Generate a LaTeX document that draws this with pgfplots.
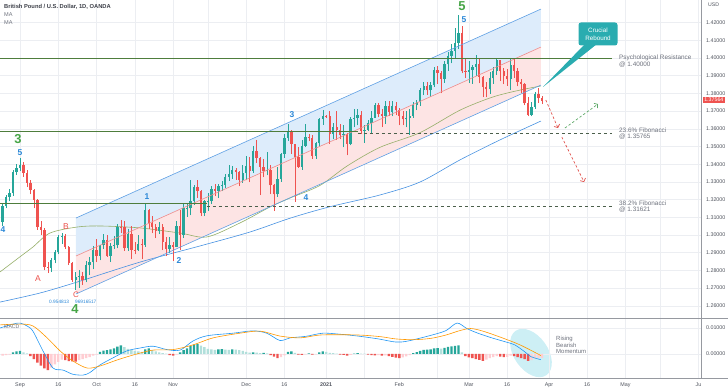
\documentclass[border=0pt]{standalone}
\usepackage{fontspec}
\setmainfont{Liberation Sans}
\usepackage{pgfplots}
\pgfplotsset{compat=1.18}
\usepackage{pgfplotstable}
\usetikzlibrary{arrows.meta}

\definecolor{upc}{RGB}{38,166,154}
\definecolor{dnc}{RGB}{239,83,80}
\definecolor{gridc}{RGB}{236,238,242}
\definecolor{axc}{RGB}{150,153,160}
\definecolor{ticc}{RGB}{80,84,94}
\definecolor{txt}{RGB}{110,114,125}
\definecolor{titc}{RGB}{60,63,72}
\definecolor{chblue}{RGB}{95,160,228}
\definecolor{chfillb}{RGB}{221,236,251}
\definecolor{chfillr}{RGB}{253,228,228}
\definecolor{chmid}{RGB}{238,140,140}
\definecolor{maA}{RGB}{150,175,105}
\definecolor{maB}{RGB}{70,145,225}
\definecolor{lvgreen}{RGB}{78,125,60}
\definecolor{dashc}{RGB}{75,95,75}
\definecolor{wgreen}{RGB}{70,165,70}
\definecolor{wblue}{RGB}{42,135,215}
\definecolor{wred}{RGB}{235,80,75}
\definecolor{callc}{RGB}{42,172,176}
\definecolor{macdb}{RGB}{33,150,243}
\definecolor{macdo}{RGB}{255,152,0}
\definecolor{hg}{RGB}{38,166,154}
\definecolor{hlg}{RGB}{178,223,219}
\definecolor{hr}{RGB}{239,83,80}
\definecolor{hlr}{RGB}{255,205,210}
\definecolor{ell}{RGB}{196,236,243}
\definecolor{arrred}{RGB}{225,85,80}
\definecolor{arrgreen}{RGB}{95,170,105}

\newcommand{\fs}[1]{\fontsize{#1}{#1}\selectfont}

% daily candles GBP/USD, x = trading-day index (0 = 1 Sep 2020), u = 1 up / 0 down
\pgfplotstableread{
x o h l c u
-5 1.3073 1.3180 1.3050 1.3164 1
-4 1.3164 1.3225 1.3150 1.3215 1
-3 1.3215 1.3260 1.3190 1.3240 1
-2 1.3240 1.3370 1.3220 1.3356 1
-1 1.3356 1.3400 1.3340 1.3380 1
0 1.3380 1.3435 1.3360 1.3395 1
1 1.3395 1.3410 1.3330 1.3350 0
2 1.3350 1.3365 1.3270 1.3294 0
3 1.3294 1.3310 1.3230 1.3254 0
4 1.3254 1.3260 1.3150 1.3198 0
5 1.3198 1.3205 1.3030 1.3045 0
6 1.3045 1.3080 1.3000 1.3030 0
7 1.3030 1.3040 1.2800 1.2819 0
8 1.2819 1.2850 1.2785 1.2814 0
9 1.2814 1.2870 1.2790 1.2859 1
10 1.2859 1.2915 1.2840 1.2904 1
11 1.2904 1.3000 1.2890 1.2989 1
12 1.2989 1.3010 1.2950 1.2995 1
13 1.2995 1.3005 1.2920 1.2932 0
14 1.2932 1.2940 1.2830 1.2842 0
15 1.2842 1.2850 1.2735 1.2746 0
16 1.2746 1.2790 1.2689 1.2763 1
17 1.2763 1.2800 1.2700 1.2770 1
18 1.2770 1.2790 1.2720 1.2745 0
19 1.2745 1.2851 1.2732 1.2830 1
20 1.2830 1.2873 1.2772 1.2847 1
21 1.2847 1.2939 1.2806 1.2918 1
22 1.2918 1.2977 1.2845 1.2880 0
23 1.2880 1.2946 1.2856 1.2941 1
24 1.2941 1.3008 1.2920 1.2971 1
25 1.2971 1.3000 1.2876 1.2882 0
26 1.2882 1.2955 1.2847 1.2940 1
27 1.2940 1.2992 1.2920 1.2942 1
28 1.2942 1.3062 1.2924 1.3046 1
29 1.3046 1.3083 1.3011 1.3044 0
30 1.3044 1.3080 1.2910 1.2925 0
31 1.2925 1.3032 1.2910 1.3005 1
32 1.3005 1.3050 1.2864 1.2917 0
33 1.2917 1.2960 1.2890 1.2913 0
34 1.2913 1.3001 1.2912 1.2947 1
35 1.2947 1.2976 1.2864 1.2943 0
36 1.2943 1.3177 1.2933 1.3139 1
37 1.3139 1.3147 1.3035 1.3070 0
38 1.3070 1.3107 1.3011 1.3043 0
39 1.3043 1.3063 1.2983 1.3022 0
40 1.3022 1.3073 1.3007 1.3045 1
41 1.3045 1.3063 1.2914 1.2960 0
42 1.2960 1.2990 1.2880 1.2921 0
43 1.2921 1.2990 1.2897 1.2945 1
44 1.2945 1.2963 1.2854 1.2935 0
45 1.2935 1.3081 1.2932 1.3053 1
46 1.3053 1.3140 1.2914 1.3002 0
47 1.3002 1.3177 1.2982 1.3150 1
48 1.3150 1.3176 1.3103 1.3152 1
49 1.3152 1.3311 1.3111 1.3194 1
50 1.3194 1.3282 1.3170 1.3270 1
51 1.3270 1.3313 1.3211 1.3250 0
52 1.3250 1.3254 1.3106 1.3122 0
53 1.3122 1.3199 1.3106 1.3190 1
54 1.3190 1.3236 1.3135 1.3192 1
55 1.3192 1.3275 1.3176 1.3261 1
56 1.3261 1.3290 1.3220 1.3250 0
57 1.3250 1.3288 1.3211 1.3275 1
58 1.3275 1.3307 1.3248 1.3283 1
59 1.3283 1.3346 1.3266 1.3330 1
60 1.3330 1.3398 1.3306 1.3342 1
61 1.3342 1.3390 1.3319 1.3367 1
62 1.3367 1.3376 1.3312 1.3357 0
63 1.3357 1.3359 1.3276 1.3310 0
64 1.3310 1.3393 1.3294 1.3349 1
65 1.3349 1.3445 1.3309 1.3392 1
66 1.3392 1.3443 1.3298 1.3362 0
67 1.3362 1.3505 1.3349 1.3474 1
68 1.3474 1.3539 1.3409 1.3435 0
69 1.3435 1.3440 1.3225 1.3385 0
70 1.3385 1.3431 1.3325 1.3363 0
71 1.3363 1.3469 1.3337 1.3369 1
72 1.3369 1.3396 1.3231 1.3281 0
73 1.3281 1.3287 1.3135 1.3229 0
74 1.3229 1.3384 1.3216 1.3319 1
75 1.3319 1.3466 1.3300 1.3460 1
76 1.3460 1.3569 1.3437 1.3549 1
77 1.3549 1.3625 1.3533 1.3581 1
78 1.3581 1.3596 1.3459 1.3514 0
79 1.3514 1.3514 1.3188 1.3442 0
80 1.3442 1.3500 1.3380 1.3386 0
81 1.3386 1.3535 1.3368 1.3504 1
82 1.3504 1.3625 1.3497 1.3555 1
83 1.3555 1.3571 1.3530 1.3549 0
84 1.3549 1.3565 1.3430 1.3449 0
85 1.3449 1.3526 1.3430 1.3518 1
86 1.3518 1.3660 1.3498 1.3656 1
87 1.3656 1.3704 1.3622 1.3672 1
88 1.3672 1.3680 1.3660 1.3670 0
89 1.3670 1.3703 1.3515 1.3571 0
90 1.3571 1.3632 1.3540 1.3608 1
91 1.3608 1.3700 1.3539 1.3595 0
92 1.3595 1.3625 1.3540 1.3565 0
93 1.3565 1.3623 1.3495 1.3568 1
94 1.3568 1.3574 1.3450 1.3516 0
95 1.3516 1.3666 1.3507 1.3658 1
96 1.3658 1.3710 1.3608 1.3661 1
97 1.3661 1.3711 1.3619 1.3677 1
98 1.3677 1.3700 1.3573 1.3590 0
99 1.3590 1.3623 1.3521 1.3596 1
100 1.3596 1.3648 1.3590 1.3635 1
101 1.3635 1.3700 1.3575 1.3663 1
102 1.3663 1.3746 1.3660 1.3732 1
103 1.3732 1.3745 1.3665 1.3685 0
104 1.3685 1.3711 1.3610 1.3675 0
105 1.3675 1.3760 1.3628 1.3731 1
106 1.3731 1.3757 1.3672 1.3694 0
107 1.3694 1.3758 1.3670 1.3728 1
108 1.3728 1.3752 1.3676 1.3708 0
109 1.3708 1.3720 1.3620 1.3673 0
110 1.3673 1.3700 1.3620 1.3653 0
111 1.3653 1.3700 1.3608 1.3660 1
112 1.3660 1.3710 1.3566 1.3670 1
113 1.3670 1.3753 1.3662 1.3736 1
114 1.3736 1.3765 1.3706 1.3750 1
115 1.3750 1.3831 1.3730 1.3819 1
116 1.3819 1.3866 1.3790 1.3842 1
117 1.3842 1.3866 1.3792 1.3817 0
118 1.3817 1.3865 1.3780 1.3846 1
119 1.3846 1.3950 1.3835 1.3930 1
120 1.3930 1.3953 1.3856 1.3916 0
121 1.3916 1.3928 1.3800 1.3883 0
122 1.3883 1.3985 1.3860 1.3964 1
123 1.3964 1.4034 1.3928 1.4014 1
124 1.4014 1.4080 1.3970 1.4040 1
125 1.4040 1.4168 1.4000 1.4086 1
126 1.4086 1.4243 1.4050 1.4144 1
127 1.4144 1.4182 1.3913 1.3925 0
128 1.3925 1.4000 1.3887 1.3922 0
129 1.3922 1.3986 1.3858 1.3933 1
130 1.3933 1.3962 1.3855 1.3950 1
131 1.3950 1.4016 1.3900 1.3964 1
132 1.3964 1.4000 1.3857 1.3894 0
133 1.3894 1.3900 1.3779 1.3838 0
134 1.3838 1.3865 1.3778 1.3823 0
135 1.3823 1.3920 1.3797 1.3885 1
136 1.3885 1.3947 1.3854 1.3926 1
137 1.3926 1.4000 1.3904 1.3988 1
138 1.3988 1.3991 1.3870 1.3925 0
139 1.3925 1.3945 1.3852 1.3899 0
140 1.3899 1.3939 1.3844 1.3880 0
141 1.3880 1.4001 1.3818 1.3962 1
142 1.3962 1.4000 1.3886 1.3928 0
143 1.3928 1.3942 1.3840 1.3866 0
144 1.3866 1.3880 1.3800 1.3855 0
145 1.3855 1.3861 1.3732 1.3744 0
146 1.3744 1.3779 1.3670 1.3680 0
147 1.3680 1.3751 1.3670 1.3724 1
148 1.3724 1.3810 1.3714 1.3797 1
149 1.3797 1.3833 1.3745 1.3774 0
150 1.3774 1.3785 1.3740 1.3756 0
}\candles

% MACD histogram, t: 1 rising positive, 2 falling positive, 3 falling negative, 4 rising negative
\pgfplotstableread{
x v t
-5 -0.0006 4
-4 -0.0004 4
-3 -0.0002 4
-2 0.0006 1
-1 0.0010 1
0 0.0012 1
1 0.0006 2
2 0.0002 2
3 -0.0008 3
4 -0.0020 3
5 -0.0033 3
6 -0.0045 3
7 -0.0055 3
8 -0.0062 3
9 -0.0052 4
10 -0.0040 4
11 -0.0030 4
12 -0.0022 4
13 -0.0024 3
14 -0.0027 3
15 -0.0028 3
16 -0.0029 3
17 -0.0024 4
18 -0.0020 4
19 -0.0016 4
20 -0.0012 4
21 -0.0006 4
22 -0.0002 4
23 0.0008 1
24 0.0013 1
25 0.0015 1
26 0.0018 1
27 0.0022 1
28 0.0028 1
29 0.0033 1
30 0.0026 2
31 0.0020 2
32 0.0016 2
33 0.0012 2
34 0.0010 2
35 0.0008 2
36 0.0018 1
37 0.0022 1
38 0.0015 2
39 0.0010 2
40 0.0006 2
41 0.0003 2
42 0.0001 2
43 -0.0004 3
44 -0.0006 3
45 -0.0002 4
46 0.0006 1
47 0.0015 1
48 0.0022 1
49 0.0030 1
50 0.0036 1
51 0.0038 1
52 0.0032 2
53 0.0026 2
54 0.0020 2
55 0.0018 2
56 0.0016 2
57 0.0018 1
58 0.0019 1
59 0.0017 2
60 0.0016 2
61 0.0018 1
62 0.0017 2
63 0.0015 2
64 0.0012 2
65 0.0008 2
66 0.0005 2
67 0.0006 1
68 0.0005 2
69 0.0003 2
70 0.0004 1
71 0.0002 2
72 -0.0004 3
73 -0.0010 3
74 -0.0016 3
75 -0.0012 4
76 -0.0005 4
77 0.0008 1
78 0.0010 1
79 0.0004 2
80 -0.0002 3
81 -0.0003 3
82 -0.0001 4
83 0.0002 1
84 -0.0002 3
85 -0.0001 4
86 0.0006 1
87 0.0010 1
88 0.0008 2
89 0.0004 2
90 0.0003 2
91 0.0001 2
92 -0.0002 3
93 -0.0003 3
94 -0.0006 3
95 -0.0003 4
96 0.0001 1
97 0.0003 1
98 0.0001 2
99 0.0001 2
100 -0.0002 3
101 -0.0004 3
102 -0.0005 3
103 -0.0004 4
104 -0.0006 3
105 -0.0005 4
106 -0.0008 3
107 -0.0011 3
108 -0.0014 3
109 -0.0016 3
110 -0.0013 4
111 -0.0009 4
112 -0.0004 4
113 0.0003 1
114 0.0007 1
115 0.0012 1
116 0.0016 1
117 0.0017 1
118 0.0018 1
119 0.0022 1
120 0.0023 1
121 0.0021 2
122 0.0024 1
123 0.0027 1
124 0.0029 1
125 0.0031 1
126 0.0033 1
127 0.0006 2
128 -0.0008 3
129 -0.0013 3
130 -0.0016 3
131 -0.0020 3
132 -0.0023 3
133 -0.0026 3
134 -0.0022 4
135 -0.0016 4
136 -0.0012 4
137 -0.0008 4
138 -0.0010 3
139 -0.0012 3
140 -0.0011 4
141 -0.0006 4
142 -0.0008 3
143 -0.0012 3
144 -0.0016 3
145 -0.0020 3
146 -0.0026 3
147 -0.0024 4
148 -0.0018 4
149 -0.0016 4
150 -0.0015 4
}\hist

\pgfplotsset{
  candleup/.style={restrict expr to domain={\thisrow{u}}{0.5:1.5}},
  candledn/.style={restrict expr to domain={\thisrow{u}}{-0.5:0.5}},
}

\begin{document}
\begin{tikzpicture}
\useasboundingbox (0,0) rectangle (728bp,391bp);
% highlight ellipse in MACD pane
\fill[ell, opacity=0.85, rotate around={-55:(531bp,38bp)}] (531bp,38bp) ellipse [x radius=27bp, y radius=17bp];

\begin{axis}[
  at={(0bp,73bp)}, anchor=south west, scale only axis,
  width=701bp, height=318bp,
  xmin=-5.75, xmax=195.7, ymin=1.2531, ymax=1.4328,
  axis line style={draw=none},
  xtick={0,11,22,33,44,54,65,76,88,99,109,120,129,140,152,163,174,184,195},
  xticklabels={},
  ytick={1.26,1.27,1.28,1.29,1.30,1.31,1.32,1.33,1.34,1.35,1.36,1.37,1.38,1.39,1.40,1.41,1.42},
  yticklabel pos=right,
  major tick length=0pt,
  xmajorgrids, ymajorgrids,
  grid style={gridc, line width=0.5bp},
  scaled ticks=false,
  yticklabel style={font=\fs{5.4}, text=ticc, xshift=1.5bp, /pgf/number format/.cd, fixed, fixed zerofill, precision=5, assume math mode=true},
  clip mode=individual,
]
% regression channel
\addplot[fill=chfillb, draw=none] coordinates {(16.09,1.30960) (149.7,1.42768) (149.7,1.40621) (16.09,1.28814)} -- cycle;
\addplot[fill=chfillr, draw=none] coordinates {(16.09,1.28814) (149.7,1.40621) (149.7,1.38475) (16.09,1.26667)} -- cycle;

% moving averages
\addplot[maA, line width=0.6bp, smooth] coordinates {(-5.75,1.2791) (0,1.2877) (3.7,1.2932) (8.6,1.3011) (16.4,1.3045) (23,1.3051) (34.5,1.3040) (46,1.3011) (53.7,1.2989) (63.2,1.3068) (71.8,1.3158) (77.6,1.3209) (86.2,1.3280) (94,1.3390) (103.4,1.3495) (114.9,1.3578) (126.4,1.3705) (135.9,1.3780) (143.7,1.3819) (149.7,1.3842)};
\addplot[maB, line width=0.6bp, smooth] coordinates {(-5.75,1.2621) (5.7,1.2672) (16.4,1.2734) (34.5,1.2847) (51.7,1.2938) (66.1,1.3017) (77.6,1.3095) (89.1,1.3160) (103.4,1.3226) (114.9,1.3299) (126.4,1.3424) (137.9,1.3537) (149.7,1.3644)};

% candles: wicks
\addplot[draw=none, mark=none, candleup, error bars/.cd, y dir=plus, y explicit, error mark=none, error bar style={draw=upc, line width=0.5bp}] table[x=x, y=l, y error expr=\thisrow{h}-\thisrow{l}] {\candles};
\addplot[draw=none, mark=none, candledn, error bars/.cd, y dir=plus, y explicit, error mark=none, error bar style={draw=dnc, line width=0.5bp}] table[x=x, y=l, y error expr=\thisrow{h}-\thisrow{l}] {\candles};
% candles: bodies
\addplot[draw=none, mark=none, candleup, error bars/.cd, y dir=plus, y explicit, error mark=none, error bar style={draw=upc, line width=2.3bp}] table[x=x, y=o, y error expr={max(\thisrow{c}-\thisrow{o},0.0003)}] {\candles};
\addplot[draw=none, mark=none, candledn, error bars/.cd, y dir=plus, y explicit, error mark=none, error bar style={draw=dnc, line width=2.3bp}] table[x=x, y=c, y error expr={max(\thisrow{o}-\thisrow{c},0.0003)}] {\candles};

% channel lines
\addplot[chblue, line width=0.6bp] coordinates {(16.09,1.30960) (149.7,1.42768)};
\addplot[chmid, line width=0.6bp] coordinates {(16.09,1.28814) (149.7,1.40621)};
\addplot[chblue, line width=0.6bp] coordinates {(16.09,1.26667) (149.7,1.38475)};

% horizontal levels
\addplot[lvgreen, line width=0.9bp] coordinates {(-5.75,1.40) (170.1,1.40)};
\addplot[lvgreen, line width=0.9bp] coordinates {(-5.75,1.3585) (97.1,1.3585)};
\addplot[dashc, line width=0.7bp, dash pattern=on 3bp off 3bp] coordinates {(97.1,1.35765) (170.1,1.35765)};
\addplot[lvgreen, line width=0.9bp] coordinates {(-5.75,1.3180) (53.7,1.3180)};
\addplot[dashc, line width=0.7bp, dash pattern=on 3bp off 3bp] coordinates {(53.7,1.31621) (170.1,1.31621)};

% projections
\addplot[arrred, line width=0.7bp, dash pattern=on 2.5bp off 2bp, -{Straight Barb[length=2.5bp,width=6bp]}] coordinates {(151.1,1.37627) (154.6,1.36045)};
\addplot[arrgreen, line width=0.7bp, dash pattern=on 2.5bp off 2bp, -{Straight Barb[length=2.5bp,width=6bp]}] coordinates {(156.6,1.36045) (166.1,1.37401)};
\addplot[arrred, line width=0.7bp, dash pattern=on 2.5bp off 2bp, -{Straight Barb[length=2.5bp,width=6bp]}] coordinates {(155.7,1.35537) (162.1,1.32994)};
\end{axis}

\begin{axis}[
  at={(0bp,13bp)}, anchor=south west, scale only axis,
  width=701bp, height=59bp,
  xmin=-5.75, xmax=195.7, ymin=-0.009231, ymax=0.013462,
  axis line style={draw=none},
  xtick={0,11,22,33,44,54,65,76,88,99,109,120,129,140,152,163,174,184,195},
  xticklabels={Sep,16,Oct,16,Nov,{},Dec,16,\textbf{2021},{},Feb,{},Mar,16,Apr,16,May,{},Ju},
  ytick={0,0.01},
  yticklabel pos=right,
  major tick length=0pt,
  xmajorgrids, ymajorgrids,
  grid style={gridc, line width=0.5bp},
  scaled ticks=false,
  xticklabel style={font=\fs{5.4}, text=ticc, yshift=-1.2bp},
  yticklabel style={font=\fs{5.4}, text=ticc, xshift=1.5bp, /pgf/number format/.cd, fixed, fixed zerofill, precision=5, assume math mode=true},
  clip mode=individual,
]
\addplot[ybar, bar width=2.4bp, fill=hg, draw=none, restrict expr to domain={\thisrow{t}}{0.5:1.5}] table[x=x, y=v] {\hist};
\addplot[ybar, bar width=2.4bp, fill=hlg, draw=none, restrict expr to domain={\thisrow{t}}{1.5:2.5}] table[x=x, y=v] {\hist};
\addplot[ybar, bar width=2.4bp, fill=hr, draw=none, restrict expr to domain={\thisrow{t}}{2.5:3.5}] table[x=x, y=v] {\hist};
\addplot[ybar, bar width=2.4bp, fill=hlr, draw=none, restrict expr to domain={\thisrow{t}}{3.5:4.5}] table[x=x, y=v] {\hist};
\addplot[macdb, line width=0.6bp, smooth] coordinates {(-5.75,0.0100) (-2,0.0115) (0,0.0119) (2,0.0108) (3.7,0.0088) (6.6,0.0012) (9.5,-0.0054) (12.4,-0.0062) (15.2,-0.0078) (18.1,-0.0081) (20,-0.0072) (23,-0.0042) (26.7,-0.0015) (30.7,0.0012) (34.5,0.0023) (38.2,0.0030) (42.2,0.0017) (46,0.0015) (49.7,0.0050) (53.7,0.0070) (61.2,0.0080) (66.9,0.0089) (70.9,0.0080) (74.7,0.0052) (77.6,0.0062) (82.2,0.0068) (87,0.0080) (92,0.0076) (97.7,0.0068) (103,0.0058) (108,0.0046) (111.5,0.0050) (118.4,0.0073) (122.4,0.0090) (125.6,0.0119) (128.4,0.0098) (131.6,0.0080) (135.6,0.0062) (139.7,0.0046) (142.2,0.0035) (145.1,0.0008) (146.8,-0.0010) (149.7,-0.0022)};
\addplot[macdo, line width=0.6bp, smooth] coordinates {(-5.75,0.0112) (0,0.0115) (3.7,0.0108) (7.8,0.0062) (11.5,0.0012) (15.2,-0.0027) (19.3,-0.0054) (23,-0.0046) (27.9,-0.0023) (32.5,-0.0004) (38.2,0.0015) (44,0.0017) (49.7,0.0035) (55.5,0.0062) (63.2,0.0080) (69,0.0088) (74.7,0.0069) (80.5,0.0062) (86.2,0.0073) (94,0.0074) (98.9,0.0072) (104,0.0066) (108,0.0058) (113,0.0055) (118,0.0060) (122.4,0.0073) (126.4,0.0090) (129.5,0.0098) (133,0.0088) (138.2,0.0064) (143.7,0.0035) (149.7,-0.0006)};
\end{axis}

% frame lines
\draw[axc, line width=0.6bp] (701bp,13bp) -- (701bp,391bp);
\draw[axc, line width=0.6bp] (0bp,72.5bp) -- (728bp,72.5bp);
\draw[axc, line width=0.6bp] (0bp,13bp) -- (728bp,13bp);

\begin{scope}[shift={(0bp,391bp)}, x=1bp, y=-1bp, every node/.style={inner sep=0pt}]
% header
\node[anchor=west, font=\fs{5.8}\bfseries, text=titc] at (4,7) {British Pound / U.S. Dollar, 1D, OANDA};
\node[anchor=west, font=\fs{5.6}, text=txt] at (4,15) {MA};
\node[anchor=west, font=\fs{5.6}, text=txt] at (4,23) {MA};
% level labels
\node[anchor=west, font=\fs{6.4}, text=txt] at (619,58) {Psychological Resistance};
\node[anchor=west, font=\fs{6.4}, text=txt] at (619,65) {@ 1.40000};
\node[anchor=west, font=\fs{6.4}, text=txt] at (619,130) {23.6\% Fibonacci};
\node[anchor=west, font=\fs{6.4}, text=txt] at (619,137) {@ 1.35765};
\node[anchor=west, font=\fs{6.4}, text=txt] at (619,203) {38.2\% Fibonacci};
\node[anchor=west, font=\fs{6.4}, text=txt] at (619,210) {@ 1.31621};
% wave labels
\node[font=\fs{13}\bfseries, text=wgreen] at (18,139) {3};
\node[font=\fs{13}\bfseries, text=wgreen] at (462,6.5) {5};
\node[font=\fs{13}\bfseries, text=wgreen] at (75,309) {4};
\node[font=\fs{8.5}\bfseries, text=wblue] at (20,152.5) {5};
\node[font=\fs{8.5}\bfseries, text=wblue] at (3,230) {4};
\node[font=\fs{8.5}\bfseries, text=wblue] at (147,197) {1};
\node[font=\fs{8.5}\bfseries, text=wblue] at (179,261) {2};
\node[font=\fs{8.5}\bfseries, text=wblue] at (292,115) {3};
\node[font=\fs{8.5}\bfseries, text=wblue] at (306,198) {4};
\node[font=\fs{8.5}\bfseries, text=wblue] at (464,19.5) {5};
\node[font=\fs{8.5}, text=wred] at (38,279) {A};
\node[font=\fs{8.5}, text=wred] at (66,227) {B};
\node[font=\fs{8}, text=wred] at (76,294.5) {C};
\node[anchor=west, font=\fs{4.8}, text=wblue] at (49,301.5) {0.954813\hspace{6bp}96916517};
% callout
\fill[callc] (585,44) -- (597,44) -- (543,87) -- cycle;
\node[fill=callc, rounded corners=2.5bp, text=white, font=\fontsize{6.3}{8}\selectfont, align=center, minimum width=39bp, minimum height=23bp] at (598,34) {Crucial\\Rebound};
% price tag
\node[anchor=west, fill=dnc, text=white, font=\fs{5.3}, inner xsep=1.6bp, inner ysep=1.3bp] at (702.5,100) {1.37564};
\node[anchor=west, font=\fs{5.2}, text=ticc] at (708,5) {USD};
% MACD pane
\node[anchor=west, font=\fs{5.2}, text=txt] at (4,327) {MACD};
\node[anchor=north west, align=left, font=\fontsize{6}{6.7}\selectfont, text=txt] at (556,336) {Rising\\Bearish\\Momentum};
\end{scope}
\end{tikzpicture}
\end{document}
